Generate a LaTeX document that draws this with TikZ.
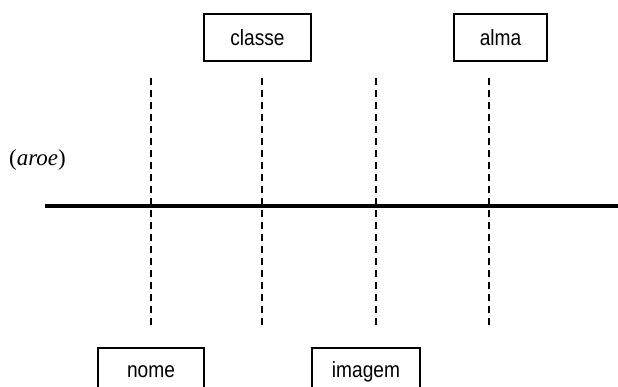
\documentclass[tikz,border=0pt]{standalone}
\usepackage{fontspec}
\newfontfamily\narrowsans[FakeStretch=0.87]{Liberation Sans}
\newfontfamily\timesfont{Liberation Serif}
\begin{document}
\begin{tikzpicture}[x=1pt,y=-1pt,
  termbox/.style={draw=black,line width=1.5pt,inner sep=0pt,minimum height=47pt,
    font=\narrowsans\fontsize{22}{22}\selectfont},
  guide/.style={line width=1.6pt,dash pattern=on 7pt off 5pt},
  axisline/.style={line width=3.2pt}]
\useasboundingbox (0,0) rectangle (618,386);
\clip (0,0) rectangle (618,386);
\node[termbox,minimum width=107pt] (classe) at (257.5,37.5) {classe};
\node[termbox,minimum width=93pt] (alma) at (500.5,37.5) {alma};
\node[termbox,minimum width=106pt] (nome) at (151,371.5) {nome};
\node[termbox,minimum width=108pt] (imagem) at (366,371.5) {imagem};
\node[font=\timesfont\fontsize{23}{23}\selectfont,anchor=west,inner sep=0pt] (label) at (9,160) {(\textit{aroe})};
\coordinate (hl) at (45,206);
\coordinate (hr) at (618,206);
\draw[axisline] (hl) -- (hr);
\foreach \i/\x in {1/151,2/262,3/376,4/489}{
  \coordinate (t\i) at (\x,78);
  \coordinate (b\i) at (\x,325);
  \draw[guide] (t\i) -- (b\i);
}
\end{tikzpicture}
\end{document}
